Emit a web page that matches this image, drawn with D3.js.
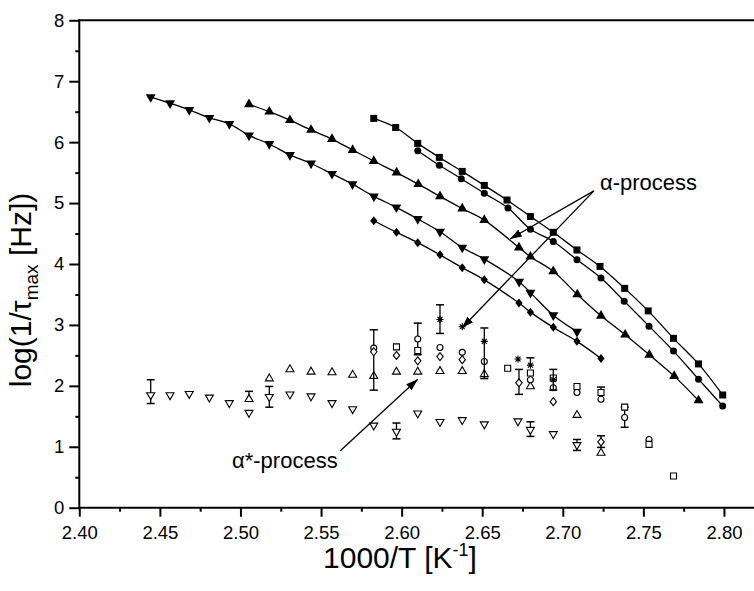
<!DOCTYPE html>
<html><head><meta charset="utf-8">
<script src="https://cdn.jsdelivr.net/npm/d3@7"></script>
<style>
body{margin:0;background:#fff}
svg{display:block}
text{font-family:"Liberation Sans",Arial,Helvetica,sans-serif;fill:#000}
</style>
</head><body>
<svg id="chart" width="754" height="591"></svg>
<script>
// ---- alpha-process (filled symbols, joined by lines) ----
const sqX = [2.5827, 2.5963, 2.6100, 2.6234, 2.6376, 2.6513, 2.6654, 2.6799, 2.6941, 2.7088, 2.7231, 2.7384, 2.7530, 2.7687, 2.7842, 2.7992];
const sqY = [6.39, 6.24, 5.98, 5.75, 5.52, 5.29, 5.05, 4.78, 4.52, 4.23, 3.96, 3.60, 3.23, 2.78, 2.36, 1.85];
const ciX = [2.6100, 2.6234, 2.6370, 2.6513, 2.6660, 2.6799, 2.6941, 2.7088, 2.7237, 2.7381, 2.7535, 2.7687, 2.7842, 2.7992];
const ciY = [5.86, 5.62, 5.40, 5.16, 4.92, 4.57, 4.37, 4.07, 3.77, 3.39, 2.98, 2.57, 2.11, 1.67];
const tuX = [2.5053, 2.5179, 2.5307, 2.5438, 2.5568, 2.5696, 2.5827, 2.5969, 2.6103, 2.6238, 2.6376, 2.6513, 2.6728, 2.6799, 2.6941, 2.7090, 2.7237, 2.7387, 2.7537, 2.7691, 2.7842];
const tuY = [6.62, 6.50, 6.36, 6.20, 6.05, 5.87, 5.69, 5.50, 5.31, 5.11, 4.91, 4.72, 4.27, 4.12, 3.88, 3.50, 3.15, 2.84, 2.51, 2.16, 1.76];
const tdX = [2.4443, 2.4563, 2.4682, 2.4807, 2.4931, 2.5053, 2.5179, 2.5307, 2.5438, 2.5568, 2.5695, 2.5828, 2.5967, 2.6100, 2.6238, 2.6376, 2.6513, 2.6729, 2.6799, 2.6941, 2.7088];
const tdY = [6.74, 6.64, 6.53, 6.40, 6.30, 6.11, 5.97, 5.79, 5.65, 5.48, 5.31, 5.11, 4.93, 4.74, 4.53, 4.27, 4.08, 3.71, 3.53, 3.16, 2.89];
const diX = [2.5827, 2.5968, 2.6100, 2.6238, 2.6376, 2.6513, 2.6728, 2.6799, 2.6941, 2.7088, 2.7237];
const diY = [4.71, 4.52, 4.35, 4.15, 3.94, 3.74, 3.36, 3.21, 2.96, 2.73, 2.45];

// ---- alpha*-process (open symbols, some with error bars; lo/hi = bar ends, null = none) ----
const otdX  = [2.4443, 2.4563, 2.4682, 2.4807, 2.4931, 2.5053, 2.5179, 2.5307, 2.5438, 2.5568, 2.5696, 2.5827, 2.5968, 2.6100, 2.6238, 2.6376, 2.6513, 2.6722, 2.6799, 2.6941, 2.7088];
const otdY  = [1.85, 1.85, 1.87, 1.81, 1.72, 1.56, 1.82, 1.86, 1.83, 1.72, 1.62, 1.35, 1.25, 1.55, 1.41, 1.44, 1.37, 1.42, 1.28, 1.21, 1.03];
const otdLo = [1.71, null, null, null, null, null, 1.65, null, null, null, null, null, 1.13, null, null, null, null, null, 1.17, null, 0.94];
const otdHi = [2.10, null, null, null, null, null, 1.99, null, null, null, null, null, 1.39, null, null, null, null, null, 1.41, null, 1.12];

const otuX  = [2.5053, 2.5179, 2.5307, 2.5438, 2.5568, 2.5696, 2.5827, 2.5968, 2.6100, 2.6238, 2.6376, 2.6513, 2.6799, 2.7088, 2.7237];
const otuY  = [1.78, 2.12, 2.27, 2.23, 2.22, 2.18, 2.16, 2.23, 2.23, 2.24, 2.24, 2.19, 1.99, 1.52, 0.90];
const otuLo = [null, null, null, null, null, null, null, null, null, null, null, null, null, null, null];
const otuHi = [1.91, null, null, null, null, null, null, null, null, null, null, null, null, null, null];

const ociX  = [2.5827, 2.6100, 2.6238, 2.6376, 2.6513, 2.6799, 2.6941, 2.7088, 2.7237, 2.7384, 2.7535];
const ociY  = [2.62, 2.77, 2.63, 2.55, 2.40, 2.10, 1.97, 1.89, 1.78, 1.48, 1.12];
const ociLo = [1.93, 2.51, null, null, null, null, null, null, null, 1.32, null];
const ociHi = [2.92, 3.03, null, null, null, null, null, null, 1.98, 1.65, null];

const osqX  = [2.5968, 2.6100, 2.6658, 2.6799, 2.6941, 2.7088, 2.7237, 2.7384, 2.7535, 2.7687];
const osqY  = [2.64, 2.58, 2.29, 2.21, 2.13, 1.99, 1.89, 1.65, 1.04, 0.52];
const osqLo = [null, null, null, null, null, null, null, null, null, null];
const osqHi = [null, null, null, null, null, null, null, null, null, null];

const odiX  = [2.5827, 2.5968, 2.6100, 2.6238, 2.6376, 2.6728, 2.6941, 2.7237];
const odiY  = [2.56, 2.50, 2.41, 2.48, 2.43, 2.05, 1.74, 1.08];
const odiLo = [null, null, null, null, null, 1.86, null, 0.99];
const odiHi = [null, null, null, null, null, 2.27, null, 1.18];

const stX  = [2.6238, 2.6376, 2.6513, 2.6722, 2.6799, 2.6941];
const stY  = [3.09, 2.97, 2.73, 2.44, 2.34, 2.10];
const stLo = [2.86, null, 2.12, null, null, 1.93];
const stHi = [3.33, null, 2.95, null, 2.46, 2.27];

const xTicks = [2.40, 2.45, 2.50, 2.55, 2.60, 2.65, 2.70, 2.75, 2.80];
const yTicks = [0, 1, 2, 3, 4, 5, 6, 7, 8];

const svg = d3.select("#chart");
const x = d3.scaleLinear().domain([2.40, 2.82]).range([79.3, 756.2]);
const y = d3.scaleLinear().domain([0, 8]).range([507.7, 20.3]);

// ---- axes ----
const bottom = d3.axisBottom(x).tickValues(xTicks).tickFormat(d3.format(".2f")).tickSize(9).tickPadding(9);
const bottomMinor = d3.axisBottom(x).tickValues(d3.range(2.425, 2.82, 0.05)).tickSize(4).tickFormat("");
const left = d3.axisLeft(y).tickValues(yTicks).tickFormat(d3.format("d")).tickSize(10).tickPadding(5);
const leftMinor = d3.axisLeft(y).tickValues(d3.range(0.5, 8, 1)).tickSize(4).tickFormat("");

function styleAxis(g) {
  g.selectAll("path.domain").attr("stroke", "#000").attr("stroke-width", 2);
  g.selectAll(".tick line").attr("stroke", "#000").attr("stroke-width", 2);
  g.selectAll(".tick text").style("font-size", "18.5px").attr("fill", "#000");
}
svg.append("g").attr("transform", `translate(0,${y(0)})`).call(bottomMinor).call(styleAxis);
svg.append("g").attr("transform", `translate(0,${y(0)})`).call(bottom).call(styleAxis);
svg.append("g").attr("transform", `translate(${x(2.40)},0)`).call(leftMinor).call(styleAxis);
svg.append("g").attr("transform", `translate(${x(2.40)},0)`).call(left).call(styleAxis);
svg.selectAll(".domain").attr("d", null);
svg.append("line").attr("x1", x(2.40)).attr("x2", x(2.82)).attr("y1", y(0)).attr("y2", y(0)).attr("stroke", "#000").attr("stroke-width", 2);
svg.append("line").attr("x1", x(2.40)).attr("x2", x(2.40)).attr("y1", y(0) + 1).attr("y2", y(8) - 1).attr("stroke", "#000").attr("stroke-width", 2);
svg.append("line").attr("x1", x(2.40) - 1).attr("x2", x(2.82)).attr("y1", y(8)).attr("y2", y(8)).attr("stroke", "#000").attr("stroke-width", 2);

// ---- axis titles ----
const xt = svg.append("text").attr("x", 400).attr("y", 568).attr("text-anchor", "middle").style("font-size", "30px");
xt.append("tspan").text("1000/T [K");
xt.append("tspan").attr("dy", -12).style("font-size", "18px").text("-1");
xt.append("tspan").attr("dy", 12).text("]");

const yt = svg.append("text").attr("transform", "translate(31,290) rotate(-90)").attr("text-anchor", "middle").style("font-size", "30px");
yt.append("tspan").text("log(1/\u03C4");
yt.append("tspan").attr("dy", 7).style("font-size", "19px").text("max");
yt.append("tspan").attr("dy", -7).text(" [Hz])");

// ---- symbol shapes ----
function shape(kind, s) {
  const h = s / 2;
  switch (kind) {
    case "square": return `M${-h},${-h}H${h}V${h}H${-h}Z`;
    case "circle": return `M${h},0A${h},${h} 0 1,1 ${-h},0A${h},${h} 0 1,1 ${h},0Z`;
    case "up": { const t = s * 0.866; return `M0,${-t * 2 / 3}L${h},${t / 3}L${-h},${t / 3}Z`; }
    case "down": { const t = s * 0.866; return `M0,${t * 2 / 3}L${h},${-t / 3}L${-h},${-t / 3}Z`; }
    case "diamond": return `M0,${-h}L${h * 0.8},0L0,${h}L${-h * 0.8},0Z`;
    case "star": return `M${-h},0H${h}M0,${-h}V${h}M${-h * 0.7},${-h * 0.7}L${h * 0.7},${h * 0.7}M${-h * 0.7},${h * 0.7}L${h * 0.7},${-h * 0.7}`;
  }
}

const line = d3.line().x(d => x(d[0])).y(d => y(d[1])).curve(d3.curveCatmullRom.alpha(0.5));
const filled = [
  [sqX, sqY, "square", 7],
  [ciX, ciY, "circle", 7],
  [tuX, tuY, "up", 10],
  [tdX, tdY, "down", 10],
  [diX, diY, "diamond", 9]
];
filled.forEach(([xs, ys, kind, s]) => {
  const pts = xs.map((v, i) => [v, ys[i]]);
  svg.append("path").attr("d", line(pts)).attr("fill", "none").attr("stroke", "#000").attr("stroke-width", 1.3);
  svg.append("g").selectAll("path").data(pts).join("path")
    .attr("transform", d => `translate(${x(d[0])},${y(d[1])})`)
    .attr("d", shape(kind, s)).attr("fill", "#000");
});

// ---- open symbols with error bars ----
const open = [
  [otdX, otdY, otdLo, otdHi, "down", 8],
  [otuX, otuY, otuLo, otuHi, "up", 8],
  [ociX, ociY, ociLo, ociHi, "circle", 6],
  [osqX, osqY, osqLo, osqHi, "square", 6],
  [odiX, odiY, odiLo, odiHi, "diamond", 8],
  [stX, stY, stLo, stHi, "star", 7]
];
open.forEach(([xs, ys, lo, hi, kind, s]) => {
  const g = svg.append("g");
  xs.forEach((v, i) => {
    const cx = x(v);
    const bars = [];
    if (hi[i] != null) bars.push(hi[i]);
    if (lo[i] != null) bars.push(lo[i]);
    bars.forEach(e => {
      g.append("line").attr("x1", cx).attr("x2", cx).attr("y1", y(ys[i])).attr("y2", y(e)).attr("stroke", "#000").attr("stroke-width", 1.3);
      g.append("line").attr("x1", cx - 4).attr("x2", cx + 4).attr("y1", y(e)).attr("y2", y(e)).attr("stroke", "#000").attr("stroke-width", 1.5);
    });
    g.append("path").attr("transform", `translate(${cx},${y(ys[i])})`).attr("d", shape(kind, s))
      .attr("fill", kind === "star" ? "none" : "#fff").attr("stroke", "#000").attr("stroke-width", 1.1);
  });
});

// ---- annotations ----
const defs = svg.append("defs");
defs.append("marker").attr("id", "head").attr("viewBox", "0 0 12 8").attr("refX", 12).attr("refY", 4)
  .attr("markerWidth", 12).attr("markerHeight", 8).attr("markerUnits", "userSpaceOnUse").attr("orient", "auto")
  .append("path").attr("d", "M0,0L12,4L0,8Z").attr("fill", "#000");

function arrow(x1, y1, x2, y2) {
  svg.append("line").attr("x1", x(x1)).attr("y1", y(y1)).attr("x2", x(x2)).attr("y2", y(y2))
    .attr("stroke", "#000").attr("stroke-width", 1.3).attr("marker-end", "url(#head)");
}
svg.append("text").attr("x", 600).attr("y", 190).style("font-size", "22px").text("\u03B1-process");
arrow(2.7193, 5.20, 2.6672, 4.41);
arrow(2.7193, 5.20, 2.6374, 2.95);
svg.append("text").attr("x", 232).attr("y", 468).style("font-size", "22px").text("\u03B1*-process");
arrow(2.5618, 0.93, 2.6100, 2.11);
</script>
</body></html>
